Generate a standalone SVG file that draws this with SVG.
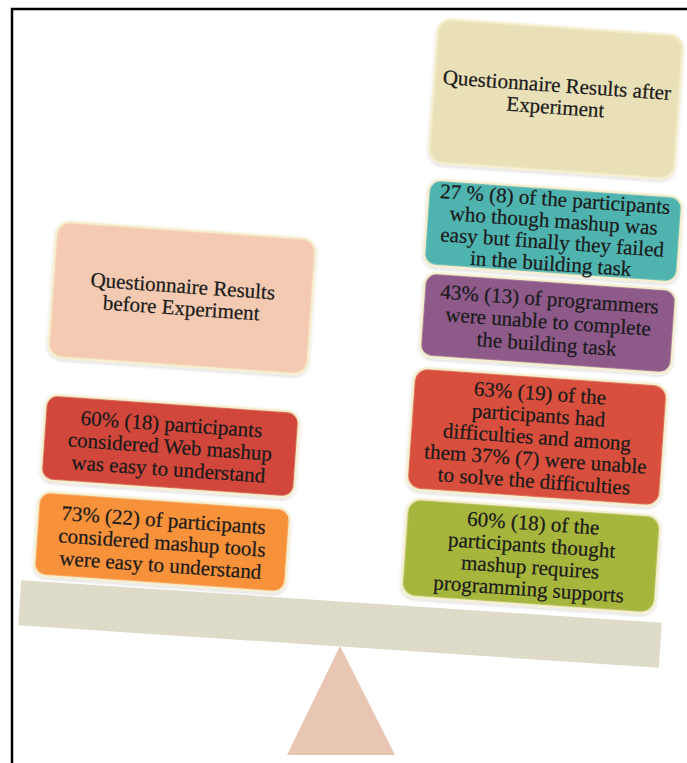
<svg xmlns="http://www.w3.org/2000/svg" width="687" height="763" viewBox="0 0 687 763">
<style>
.box{stroke:#f6efcf;stroke-width:2.5}
.t{font-family:"Liberation Serif","Times New Roman",serif;font-size:21px;fill:#1b1b1b;stroke:#1b1b1b;stroke-width:0.25;text-anchor:middle}
</style>
<defs>
<filter id="sh" x="-10%" y="-10%" width="120%" height="130%">
<feDropShadow dx="0" dy="1.5" stdDeviation="1.5" flood-color="#000" flood-opacity="0.18"/>
</filter>
</defs>
<rect width="687" height="763" fill="#fff"/>
<path d="M12 763 V9 H687" fill="none" stroke="#000" stroke-width="2.5"/>

<g id="fulcrum"><polygon points="340,646 287,755 395,755" fill="#e9c5b4"/></g>
<g id="beam" transform="translate(340,624) rotate(3.8)"><rect x="-321" y="-22.5" width="642" height="45" fill="#dedcc8"/></g>

<g id="before-header" transform="translate(182,298) rotate(4)">
<rect class="box" x="-130" y="-68" width="260" height="136" rx="14" fill="#f4cbb2" filter="url(#sh)"/>
<text class="t"><tspan x="0" y="-5">Questionnaire Results</tspan><tspan x="0" y="17">before Experiment</tspan></text>
</g>
<g id="before-web-mashup" transform="translate(170,446) rotate(4)">
<rect class="box" x="-127" y="-43" width="254" height="86" rx="12" fill="#d1473a" filter="url(#sh)"/>
<text class="t"><tspan x="0" y="-15">60% (18) participants</tspan><tspan x="0" y="7.5">considered Web mashup</tspan><tspan x="0" y="30">was easy to understand</tspan></text>
</g>
<g id="before-tools" transform="translate(162,542) rotate(4)">
<rect class="box" x="-126" y="-42" width="252" height="84" rx="12" fill="#f7923a" filter="url(#sh)"/>
<text class="t"><tspan x="0" y="-15">73% (22) of participants</tspan><tspan x="0" y="7.5">considered mashup tools</tspan><tspan x="0" y="30">were easy to understand</tspan></text>
</g>

<g id="after-header" transform="translate(556,99) rotate(4)">
<rect class="box" x="-123" y="-72" width="246" height="144" rx="14" fill="#e9e0b8" filter="url(#sh)"/>
<text class="t"><tspan x="0" y="-7">Questionnaire Results after</tspan><tspan x="0" y="15">Experiment</tspan></text>
</g>
<g id="after-failed" transform="translate(553,231) rotate(4)">
<rect class="box" x="-127" y="-43" width="254" height="86" rx="12" fill="#4fb4b0" filter="url(#sh)"/>
<text class="t"><tspan x="0" y="-25">27 % (8) of the participants</tspan><tspan x="0" y="-3.5">who though mashup was</tspan><tspan x="0" y="18">easy but finally they failed</tspan><tspan x="0" y="39.5">in the building task</tspan></text>
</g>
<g id="after-programmers" transform="translate(548,323) rotate(4)">
<rect class="box" x="-126" y="-42" width="252" height="84" rx="12" fill="#8e5a8a" filter="url(#sh)"/>
<text class="t"><tspan x="0" y="-17">43% (13) of programmers</tspan><tspan x="0" y="5.5">were unable to complete</tspan><tspan x="0" y="28">the building task</tspan></text>
</g>
<g id="after-difficulties" transform="translate(537,437) rotate(4)">
<rect class="box" x="-127" y="-61" width="254" height="122" rx="14" fill="#d9503d" filter="url(#sh)"/>
<text class="t"><tspan x="0" y="-37">63% (19) of the</tspan><tspan x="0" y="-15">participants had</tspan><tspan x="0" y="7">difficulties and among</tspan><tspan x="0" y="29">them 37% (7) were unable</tspan><tspan x="0" y="51">to solve the difficulties</tspan></text>
</g>
<g id="after-programming" transform="translate(531,556) rotate(4)">
<rect class="box" x="-127" y="-49" width="254" height="98" rx="14" fill="#a6b63c" filter="url(#sh)"/>
<text class="t"><tspan x="0" y="-26">60% (18) of the</tspan><tspan x="0" y="-4">participants thought</tspan><tspan x="0" y="18">mashup requires</tspan><tspan x="0" y="40">programming supports</tspan></text>
</g>
</svg>
